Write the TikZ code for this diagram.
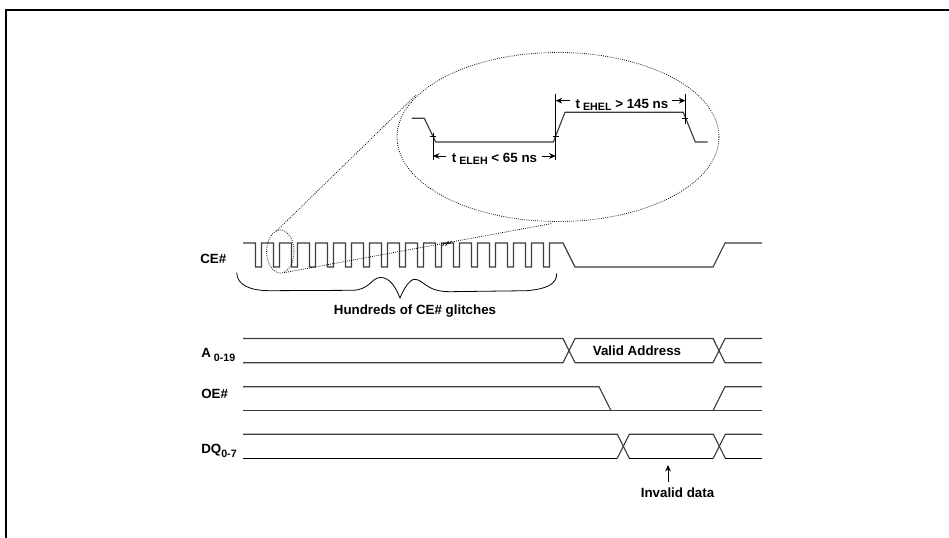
\documentclass[tikz,border=0pt]{standalone}
\usepackage{fontspec}
\setmainfont{Liberation Sans}
\usepackage{tikz}
\usetikzlibrary{arrows.meta,positioning,calc}
\definecolor{wavegray}{RGB}{60,60,60}
\newcommand{\lowtext}[2][3pt]{\raisebox{-#1}{\fontsize{8pt}{8pt}\selectfont #2}}
\tikzset{
  wave/.style={line width=0.85pt, wavegray},
  wavedark/.style={line width=0.85pt, black},
  siglabel/.style={
    font=\fontsize{10pt}{12pt}\selectfont\bfseries,
    inner sep=0pt,
    anchor=base west
  },
  textlabel/.style={
    font=\fontsize{10pt}{12pt}\selectfont\bfseries,
    inner sep=0pt,
    anchor=base
  },
  zoomline/.style={densely dotted, line width=0.6pt, black},
  dimline/.style={line width=0.7pt, black},
  dimarrow/.style={-{Stealth[length=1.7mm,width=1.5mm]}, line width=0.7pt, black},
  brace/.style={line width=0.6pt, black}
}
\begin{document}
\begin{tikzpicture}[x=0.75pt,y=-0.75pt]
\useasboundingbox (0,0) rectangle (949,538);
\draw[line width=1.5pt] (6,538) -- (6,10) -- (949,10);

\node[siglabel] (ce) at (200,263) {CE\#};
\node[siglabel] (addr) at (201,357) {A\lowtext{ 0-19}};
\node[siglabel] (oe) at (201,398) {OE\#};
\node[siglabel] (dq) at (201,453) {DQ\lowtext{0-7}};
\node[textlabel] (glitches) at (415,314) {Hundreds of CE\# glitches};
\node[textlabel] (valid) at (637,355) {Valid Address};
\node[textlabel] (invalid) at (677.5,497) {Invalid data};
\node[textlabel] (teleh) at (494.5,162.5) {t\lowtext[1.7pt]{ ELEH} < 65 ns};
\node[textlabel] (tehel) at (622,108.3) {t\lowtext[1.7pt]{ EHEL} > 145 ns};

\draw[wave] (243,243) foreach \x in {0,...,16} {
  -- ({255.5+18*\x},243) -- ({255.5+18*\x},267) -- ({261.5+18*\x},267) -- ({261.5+18*\x},243)
} -- (563,243) -- (575,267) -- (713,267) -- (725,243) -- (762,243);

\draw[wave] (243,338.5) -- (563,338.5) -- (575,362.7) -- (713,362.7) -- (725,338.5) -- (762,338.5);
\draw[wave] (243,362.7) -- (563,362.7) -- (575,338.5) -- (713,338.5) -- (725,362.7) -- (762,362.7);

\draw[wave] (243,386.7) -- (599,386.7) -- (611,410.7);
\draw[wave] (243,410.7) -- (762,410.7);
\draw[wave] (713,410.7) -- (725,386.7) -- (762,386.7);

\draw[wave] (243,434.3) -- (617.3,434.3) -- (629.3,458.3);
\draw[wave] (617.3,458.3) -- (629.3,434.3) -- (713.3,434.3) -- (725.3,458.3);
\draw[wave] (713.3,458.3) -- (725.3,434.3) -- (762,434.3);
\draw[wavedark] (243,458.3) -- (617.3,458.3);
\draw[wavedark] (629.3,458.3) -- (713.3,458.3);
\draw[wavedark] (725.3,458.3) -- (762,458.3);

\draw[zoomline] (280.3,251.5) ellipse [x radius=13.7, y radius=21.5];
\draw[zoomline] (558,137) ellipse [x radius=161, y radius=84.5];
\coordinate (smalltop) at (276.5,231);
\coordinate (bigleft) at (416,95);
\coordinate (smallbot) at (284,272.7);
\coordinate (bigbot) at (552,223.5);
\draw[zoomline] (smalltop) -- (bigleft);
\draw[zoomline] (smallbot) -- (bigbot);
\draw[line width=0.5pt] (442.5,246) .. controls (445,240.5) and (446,246.5) .. (448.5,241);
\draw[line width=0.5pt] (445.5,246) .. controls (448,240.5) and (449,246.5) .. (451.5,241);

\draw[brace] (236.7,272.7) .. controls (237,285) and (250,290.7) .. (270,290.7)
  -- (352,290.3) .. controls (370,290) and (371,278) .. (380,277.5)
  .. controls (390,277) and (396,288) .. (400,298)
  .. controls (404,288) and (410,279) .. (415,279.3)
  .. controls (424,280) and (426,291.7) .. (450,291.7)
  -- (527,290.7) .. controls (545,289) and (557,285) .. (556.7,273.3);

\draw[wave] (411.7,118.3) -- (424.3,118.3) -- (435.7,142) -- (553.3,142) -- (565,112.3) -- (683.3,112.3) -- (695.3,142) -- (707.7,142);
\coordinate (leftlow) at (433,160);
\coordinate (midlow) at (555.7,160);
\coordinate (midtop) at (555.7,94);
\coordinate (righttop) at (685.3,94);
\draw[dimline] (433,133) -- (leftlow);
\draw[dimline] (midtop) -- (midlow);
\draw[dimline] (righttop) -- (685.3,124);
\draw[dimline] (430,136) -- (436,136);
\draw[dimline] (552.7,136) -- (558.7,136);
\draw[dimline] (682.3,118) -- (688.3,118);

\coordinate (t1a) at (433,156);
\coordinate (t1b) at (555.7,156);
\coordinate (t2a) at (555.7,100.7);
\coordinate (t2b) at (685.3,100.7);
\draw[dimarrow] (445.7,156) -- (t1a);
\draw[dimarrow] (541.7,156) -- (t1b);
\draw[dimarrow] (570,100.7) -- (t2a);
\draw[dimarrow] (671.7,100.7) -- (t2b);

\coordinate (dataup) at (668,465);
\draw[dimarrow, line width=0.6pt] (668,481.7) -- (dataup);
\end{tikzpicture}
\end{document}
